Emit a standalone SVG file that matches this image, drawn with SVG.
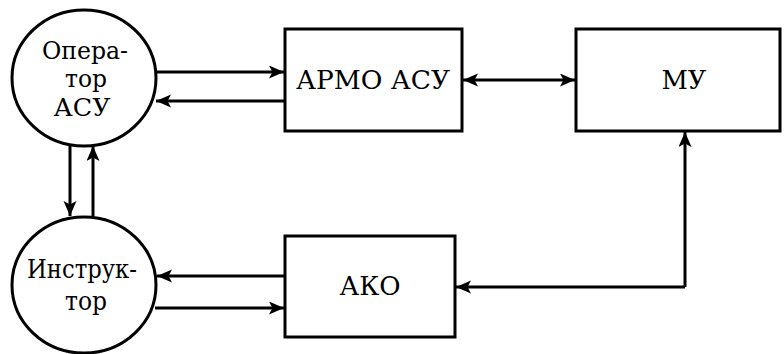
<svg xmlns="http://www.w3.org/2000/svg" width="784" height="354" viewBox="0 0 784 354">
<defs>
<marker id="ah" markerUnits="userSpaceOnUse" markerWidth="16" markerHeight="14" refX="15" refY="6.5" orient="auto-start-reverse">
<path d="M0,0 L15,6.5 L0,13 L3.5,6.5 Z" fill="#000"/>
</marker>
</defs>
<g id="connectors" fill="none" stroke="#000" stroke-width="3">
<line x1="157" y1="72" x2="284" y2="72" marker-end="url(#ah)"/>
<line x1="285" y1="101" x2="156" y2="101" marker-end="url(#ah)"/>
<line x1="463" y1="80" x2="575" y2="80" marker-start="url(#ah)" marker-end="url(#ah)"/>
<line x1="685" y1="287" x2="685" y2="132" marker-end="url(#ah)"/>
<line x1="685" y1="287" x2="456" y2="287" marker-end="url(#ah)"/>
<line x1="285" y1="276" x2="157" y2="276" marker-end="url(#ah)"/>
<line x1="155" y1="308" x2="284" y2="308" marker-end="url(#ah)"/>
<line x1="70" y1="146" x2="70" y2="216" marker-end="url(#ah)"/>
<line x1="93" y1="216" x2="93" y2="146" marker-end="url(#ah)"/>
</g>
<g id="operator">
<ellipse cx="84" cy="78" rx="72" ry="68" fill="#fff" stroke="#000" stroke-width="3"/>
<text x="85" y="59" font-family="DejaVu Serif, Liberation Serif, serif" font-size="24" text-anchor="middle" textLength="86" lengthAdjust="spacingAndGlyphs">Опера-</text>
<text x="86" y="87" font-family="DejaVu Serif, Liberation Serif, serif" font-size="24" text-anchor="middle" textLength="42" lengthAdjust="spacingAndGlyphs">тор</text>
<text x="82" y="116" font-family="DejaVu Serif, Liberation Serif, serif" font-size="24" text-anchor="middle" textLength="57" lengthAdjust="spacingAndGlyphs">АСУ</text>
</g>
<g id="armo">
<rect x="285" y="29" width="177" height="102" fill="#fff" stroke="#000" stroke-width="3"/>
<text x="373" y="89" font-family="DejaVu Serif, Liberation Serif, serif" font-size="26" text-anchor="middle" textLength="154" lengthAdjust="spacingAndGlyphs">АРМО АСУ</text>
</g>
<g id="mu">
<rect x="576" y="29" width="204" height="102" fill="#fff" stroke="#000" stroke-width="3"/>
<text x="684" y="89" font-family="DejaVu Serif, Liberation Serif, serif" font-size="26" text-anchor="middle" textLength="45" lengthAdjust="spacingAndGlyphs">МУ</text>
</g>
<g id="instructor">
<ellipse cx="84" cy="285" rx="72" ry="68" fill="#fff" stroke="#000" stroke-width="3"/>
<text x="82" y="278" font-family="DejaVu Serif, Liberation Serif, serif" font-size="26" text-anchor="middle" textLength="110" lengthAdjust="spacingAndGlyphs">Инструк-</text>
<text x="86" y="310" font-family="DejaVu Serif, Liberation Serif, serif" font-size="26" text-anchor="middle" textLength="42" lengthAdjust="spacingAndGlyphs">тор</text>
</g>
<g id="ako">
<rect x="285" y="236" width="170" height="101" fill="#fff" stroke="#000" stroke-width="3"/>
<text x="370" y="295" font-family="DejaVu Serif, Liberation Serif, serif" font-size="26" text-anchor="middle" textLength="61" lengthAdjust="spacingAndGlyphs">АКО</text>
</g>
</svg>
